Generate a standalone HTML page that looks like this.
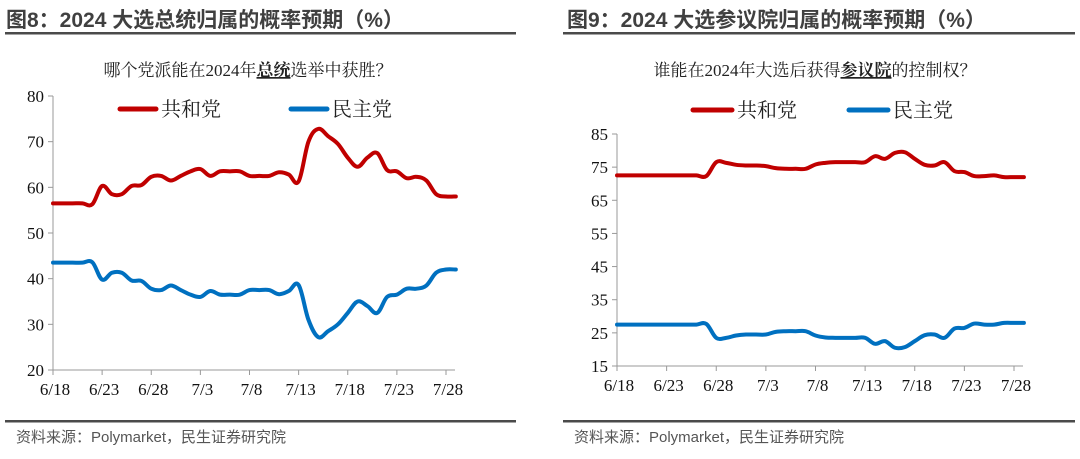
<!DOCTYPE html>
<html><head><meta charset="utf-8"><style>
body{margin:0;background:#fff;}
svg text{font-family:"Liberation Serif","Noto Serif CJK SC",serif;}
.h{font-family:"Liberation Sans","Noto Sans CJK SC",sans-serif !important;}
</style></head><body>
<svg id="c" width="1080" height="454" xmlns="http://www.w3.org/2000/svg">
<g>
<text class="h" x="6" y="27" font-size="21" font-weight="bold" fill="#404040">图8：2024 大选总统归属的概率预期（%）</text>
<rect x="5" y="32" width="511" height="2.5" fill="#4a4a4a"/>
<rect x="5" y="420" width="511" height="2.5" fill="#4a4a4a"/>
<text class="h" x="16" y="442" font-size="15" fill="#555">资料来源：Polymarket，民生证券研究院</text>
</g>
<g>
<text class="h" x="567" y="27" font-size="21" font-weight="bold" fill="#404040">图9：2024 大选参议院归属的概率预期（%）</text>
<rect x="563" y="32" width="512" height="2.5" fill="#4a4a4a"/>
<rect x="563" y="420" width="512" height="2.5" fill="#4a4a4a"/>
<text class="h" x="574" y="442" font-size="15" fill="#555">资料来源：Polymarket，民生证券研究院</text>
</g>
<text x="248" y="76" font-size="17" fill="#222" text-anchor="middle">哪个党派能在2024年<tspan text-decoration="underline" font-weight="bold">总统</tspan>选举中获胜？</text>
<text x="815" y="76" font-size="17" fill="#222" text-anchor="middle">谁能在2024年大选后获得<tspan text-decoration="underline" font-weight="bold">参议院</tspan>的控制权？</text>
</svg>
<script>
const xTickLabels=["6/18","6/23","6/28","7/3","7/8","7/13","7/18","7/23","7/28"];
const leftYTicks=[20,30,40,50,60,70,80];
const rightYTicks=[15,25,35,45,55,65,75,85];
const seriesNames=["共和党","民主党"];
const leftRep=[56.5,56.5,56.5,56.5,56.3,60.3,58.5,58.5,60.3,60.5,62.3,62.5,61.5,62.5,63.5,64,62.5,63.5,63.5,63.5,62.5,62.5,62.5,63.3,62.8,61.3,70,72.8,71.2,69.5,66.5,64.5,66.5,67.5,63.8,63.5,62,62.3,61.5,58.5,58,58];
const leftDem=[43.5,43.5,43.5,43.5,43.6,39.8,41.3,41.3,39.6,39.5,37.8,37.5,38.5,37.5,36.5,36,37.3,36.5,36.5,36.5,37.5,37.5,37.5,36.6,37.3,38.6,31,27.2,28.5,30,32.5,35,34,32.5,36,36.5,37.8,37.8,38.5,41.3,42,42];
const rightRep=[72.5,72.5,72.5,72.5,72.5,72.5,72.5,72.5,72.5,72.3,76.5,76.3,75.7,75.5,75.5,75.3,74.7,74.5,74.5,74.5,75.8,76.3,76.5,76.5,76.5,76.5,78.3,77.5,79.3,79.5,77.5,75.7,75.5,76.5,73.8,73.5,72.3,72.3,72.5,72,72,72];
const rightDem=[27.5,27.5,27.5,27.5,27.5,27.5,27.5,27.5,27.5,27.7,23.5,23.5,24.2,24.5,24.5,24.5,25.3,25.5,25.5,25.5,24.2,23.6,23.5,23.5,23.5,23.5,21.7,22.5,20.5,20.7,22.5,24.3,24.5,23.5,26.3,26.5,27.8,27.5,27.5,28,28,28];

const NS="http://www.w3.org/2000/svg";
const svg=document.getElementById('c');
function mk(tag,attrs,parent){const e=document.createElementNS(NS,tag);for(const k in attrs)e.setAttribute(k,attrs[k]);(parent||svg).appendChild(e);return e;}
function smooth(pts){let d="M"+pts[0][0]+","+pts[0][1];for(let i=0;i<pts.length-1;i++){const p0=pts[i-1]||pts[i],p1=pts[i],p2=pts[i+1],p3=pts[i+2]||p2;const t=0.18;d+=" C"+(p1[0]+(p2[0]-p0[0])*t)+","+(p1[1]+(p2[1]-p0[1])*t)+" "+(p2[0]-(p3[0]-p1[0])*t)+","+(p2[1]-(p3[1]-p1[1])*t)+" "+p2[0]+","+p2[1];}return d;}
function chart(cfg){
  const g=mk('g',{});
  
  
  const x=d=>cfg.x0+(cfg.x1-cfg.x0)*d/40;
  const y=v=>cfg.yB-(cfg.yB-cfg.yT)*(v-cfg.ticks[0])/(cfg.ticks[cfg.ticks.length-1]-cfg.ticks[0]);
  const ya=mk('line',{x1:cfg.x0,x2:cfg.x0,y1:cfg.yT,y2:cfg.yB,stroke:'#999','stroke-width':1},g);
  
  
  const xa=mk('line',{x1:cfg.x0,x2:cfg.xEnd,y1:cfg.yB,y2:cfg.yB,stroke:'#999','stroke-width':1},g);
  
  
  cfg.ticks.forEach(v=>{
    mk('line',{x1:cfg.x0-5,x2:cfg.x0,y1:y(v),y2:y(v),stroke:'#999'},g);
    const t=mk('text',{x:cfg.x0-9,y:y(v)+6,'font-size':17,'text-anchor':'end',fill:'#111'},g);
    t.textContent=v;
    
    
  });
  xTickLabels.forEach((lab,i)=>{
    const xx=x(i*5);
    mk('line',{x1:xx,x2:xx,y1:cfg.yB,y2:cfg.yB+5,stroke:'#999'},g);
    const t=mk('text',{x:xx+2,y:cfg.yB+25,'font-size':17,'text-anchor':'middle',fill:'#111'},g);
    t.textContent=lab;
    
    
  });
  [[cfg.rep,'#c00000','republican-line'],[cfg.dem,'#0070c0','democrat-line']].forEach(([arr,col,nm])=>{
    const p=mk('path',{d:smooth(arr.map((v,i)=>[x(i),y(v)])),fill:'none',stroke:col,'stroke-width':4,'stroke-linejoin':'round','stroke-linecap':'round'},g);
    
    
  });
  cfg.legend.forEach((L,i)=>{
    const lg=mk('g',{},g);
    
    
    mk('line',{x1:L[0],x2:L[1],y1:cfg.ly,y2:cfg.ly,stroke:i?'#0070c0':'#c00000','stroke-width':5,'stroke-linecap':'round'},lg);
    const t=mk('text',{x:L[1]+5,y:cfg.ly+7,'font-size':20,fill:'#222'},lg);
    t.textContent=seriesNames[i];
  });
}
chart({name:'left-chart',x0:53,x1:446,xEnd:455,yT:96,yB:370,ticks:leftYTicks,rep:leftRep,dem:leftDem,ly:109,legend:[[120,156],[291,327]]});
chart({name:'right-chart',x0:617,x1:1014,xEnd:1023,yT:134,yB:366,ticks:rightYTicks,rep:rightRep,dem:rightDem,ly:110,legend:[[693,732],[849,888]]});
</script>
</body></html>
